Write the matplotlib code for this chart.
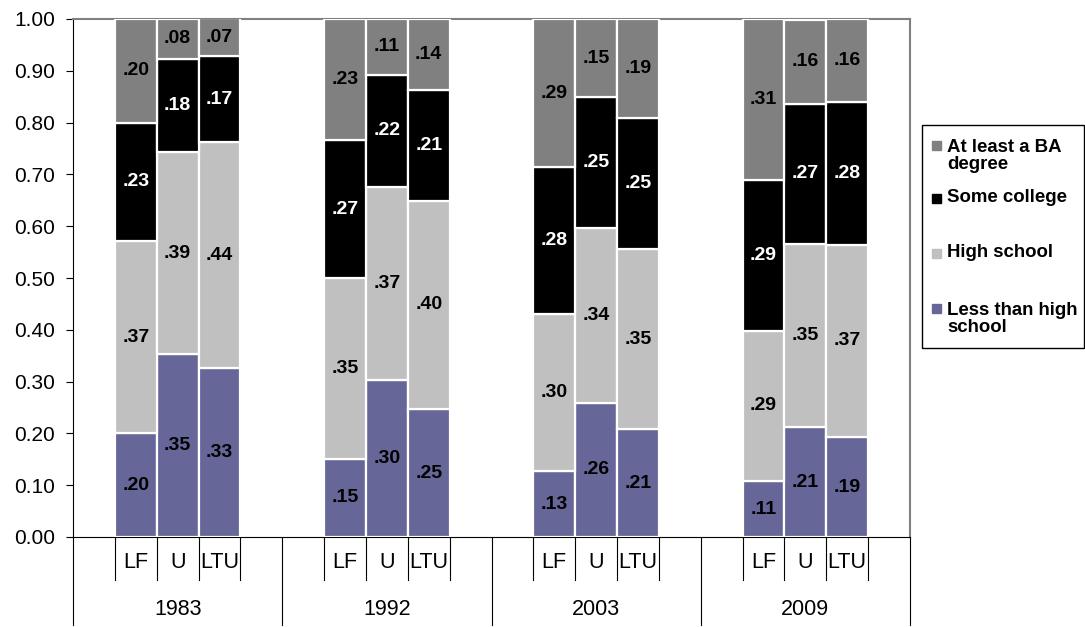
import matplotlib
matplotlib.use("Agg")
import matplotlib.pyplot as plt
from matplotlib.patches import Rectangle
import numpy as np

plt.rcParams.update({"font.family": ["Liberation Sans", "DejaVu Sans"], "font.size": 15})

years = ["1983", "1992", "2003", "2009"]
groups = ["LF", "U", "LTU"]
series = ["Less than high\nschool", "High school", "Some college", "At least a BA\ndegree"]
less_hs = [0.200, 0.353, 0.326, 0.151, 0.303, 0.247, 0.127, 0.259, 0.208, 0.108, 0.212, 0.193]
high_school = [0.372, 0.390, 0.436, 0.349, 0.373, 0.402, 0.303, 0.338, 0.348, 0.290, 0.354, 0.371]
some_college = [0.228, 0.180, 0.166, 0.266, 0.216, 0.214, 0.284, 0.252, 0.253, 0.291, 0.270, 0.276]
ba_plus = [0.200, 0.077, 0.073, 0.234, 0.108, 0.137, 0.286, 0.151, 0.191, 0.311, 0.162, 0.160]

colors = ["#666699", "#c0c0c0", "#000000", "#808080"]
text_colors = ["black", "black", "white", "black"]

W, H = 1085, 627
fig = plt.figure(figsize=(W / 100, H / 100), dpi=100)
ax = fig.add_axes([73 / W, 1 - 537 / H, (910 - 73) / W, (537 - 19) / H])

# 5 slots per year: blank, LF, U, LTU, blank
x = np.array([5 * g + 1.5 + i for g in range(len(years)) for i in range(len(groups))])
bottom = np.zeros(len(x))
for vals, col, tc in zip([less_hs, high_school, some_college, ba_plus], colors, text_colors):
    vals = np.array(vals)
    ax.bar(x, vals, width=1.0, bottom=bottom, color=col, edgecolor="white", lw=1.6, zorder=3)
    for xi, b, v in zip(x, bottom, vals):
        ax.text(xi, b + v / 2, f"{v:.2f}"[1:], ha="center", va="center", color=tc,
                fontsize=14, fontweight="bold", zorder=4)
    bottom += vals

ax.set_xlim(0, 20)
ax.set_ylim(0, 1)
yt = np.arange(0, 1.01, 0.1)
ax.set_yticks(yt)
ax.set_yticklabels([f"{v:.2f}" for v in yt])
ax.set_xticks([])
ax.tick_params(axis="y", direction="out", length=5, pad=8, labelsize=15)
for s in ["top", "right"]:
    ax.spines[s].set_color("#808080")
    ax.spines[s].set_linewidth(1.5)

# category axis with group separators
tr = ax.get_xaxis_transform()
for g, yr in enumerate(years):
    for k in range(1, 5):
        ax.plot([5 * g + k] * 2, [0, -0.083], color="black", lw=0.8, transform=tr, clip_on=False)
    for i, lab in enumerate(groups):
        ax.text(5 * g + 1.5 + i, -0.05, lab, ha="center", va="center", fontsize=15.5,
                transform=tr)
    ax.text(5 * g + 2.5, -0.139, yr, ha="center", va="center", fontsize=15.5, transform=tr)
for k in range(0, 21, 5):
    ax.plot([k, k], [0, -0.17], color="black", lw=0.8, transform=tr, clip_on=False)

# legend laid out like the spreadsheet one
fig.patches.append(Rectangle((922 / W, 1 - 348 / H), 162 / W, 223 / H, transform=fig.transFigure,
                             fill=False, edgecolor="black", lw=1.0))
rows = [(156, 146), (198, 198), (253, 253), (319, 308)]   # text centre, marker centre (px)
for lab, col, (ty, my) in zip(series[::-1], colors[::-1], rows):
    fig.patches.append(Rectangle((932 / W, 1 - (my + 4.5) / H), 9 / W, 9 / H,
                                 transform=fig.transFigure, color=col))
    fig.text(947 / W, 1 - ty / H, lab, ha="left", va="center", fontsize=13.4,
             fontweight="bold", linespacing=1.05)

fig.savefig("out.png", dpi=100)
